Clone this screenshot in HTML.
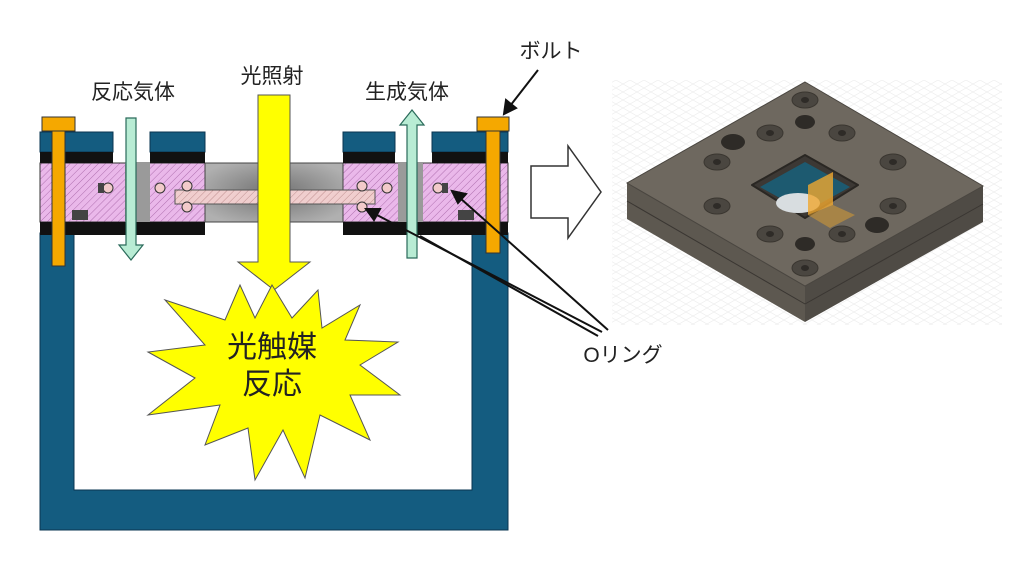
<!DOCTYPE html>
<html><head><meta charset="utf-8"><style>
html,body{margin:0;padding:0;background:#fff;}
svg{display:block;}
text{font-family:"Liberation Sans","Noto Sans CJK JP",sans-serif;}
</style></head><body>
<svg width="1024" height="571" viewBox="0 0 1024 571" xmlns="http://www.w3.org/2000/svg">
<defs>
<pattern id="hatch" width="5" height="5" patternUnits="userSpaceOnUse" patternTransform="rotate(45)">
<rect width="5" height="5" fill="#eab8ea"/><line x1="0" y1="0" x2="0" y2="5" stroke="#b070b0" stroke-width="1"/>
</pattern>
<pattern id="hatch2" width="5" height="5" patternUnits="userSpaceOnUse" patternTransform="rotate(45)">
<rect width="5" height="5" fill="#f0cece"/><line x1="0" y1="0" x2="0" y2="5" stroke="#c09090" stroke-width="1"/>
</pattern>
<radialGradient id="gr" cx="50%" cy="50%" r="60%"><stop offset="0" stop-color="#707070"/><stop offset="1" stop-color="#b0b0b0"/></radialGradient>
<pattern id="grid" width="14" height="8" patternUnits="userSpaceOnUse"><path d="M0 8 L14 0 M0 0 L14 8" stroke="#ececec" stroke-width="0.6"/></pattern>
</defs>

<!-- grid bg for render -->
<rect x="612" y="80" width="390" height="245" fill="url(#grid)"/>

<!-- container U -->
<path d="M40 233 H74 V490 H472 V233 H508 V530 H40 Z" fill="#145c80" stroke="#0a3550" stroke-width="1"/>

<!-- pink layer -->
<rect x="40" y="163" width="468" height="59" fill="url(#hatch)" stroke="#333" stroke-width="1"/>
<!-- gray channels -->
<rect x="125" y="163" width="25" height="59" fill="#9a9a9a"/>
<rect x="398" y="163" width="25" height="59" fill="#9a9a9a"/>
<rect x="205" y="163" width="138" height="59" fill="url(#gr)" stroke="#444"/>
<!-- window bar -->
<rect x="175" y="190" width="200" height="14" fill="url(#hatch2)" stroke="#555"/>
<!-- o-rings -->
<g fill="#f2caca" stroke="#333" stroke-width="1">
<circle cx="187" cy="186" r="5"/><circle cx="187" cy="207" r="5"/>
<circle cx="362" cy="186" r="5"/><circle cx="362" cy="207" r="5"/>
<circle cx="160" cy="188" r="5"/><circle cx="387" cy="188" r="5"/>
<circle cx="108" cy="188" r="5"/><circle cx="438" cy="188" r="5"/>
</g>
<g fill="#444"><rect x="98" y="183" width="6" height="10"/><rect x="442" y="183" width="6" height="10"/>
<rect x="72" y="210" width="16" height="10"/><rect x="458" y="210" width="16" height="10"/></g>

<!-- top plate -->
<g fill="#145c80" stroke="#0a3550">
<rect x="40" y="132" width="73" height="20"/>
<rect x="150" y="132" width="55" height="20"/>
<rect x="343" y="132" width="52" height="20"/>
<rect x="432" y="132" width="76" height="20"/>
</g>
<g fill="#111">
<rect x="40" y="152" width="73" height="11"/>
<rect x="150" y="152" width="55" height="11"/>
<rect x="343" y="152" width="52" height="11"/>
<rect x="432" y="152" width="76" height="11"/>
<rect x="40" y="222" width="165" height="13"/>
<rect x="343" y="222" width="165" height="13"/>
</g>

<!-- bolts -->
<g fill="#f5a800" stroke="#333" stroke-width="1">
<rect x="42" y="117" width="33" height="14"/><rect x="52" y="131" width="13" height="135"/>
<rect x="477" y="117" width="32" height="14"/><rect x="486" y="131" width="14" height="122"/>
</g>

<!-- green arrows -->
<path d="M126 118 H136 V245 H143 L131 260 L119 245 H126 Z" fill="#b8ecd4" stroke="#2a6a5a" stroke-width="1.2"/>
<path d="M407 258 H417 V125 H424 L412 110 L400 125 H407 Z" fill="#b8ecd4" stroke="#2a6a5a" stroke-width="1.2"/>

<!-- yellow arrow -->
<path d="M258 95 H290 V262 H310 L274 290 L238 262 H258 Z" fill="#ffff00" stroke="#555" stroke-width="1"/>

<!-- starburst -->
<polygon points="272,285 292,318 318,290 322,328 360,305 345,340 398,342 360,365 400,395 350,395 370,440 320,415 305,478 283,430 255,480 248,428 205,445 220,405 148,415 195,378 148,352 205,345 165,300 225,320 240,285 255,318" fill="#ffff00" stroke="#555" stroke-width="1"/>
<text x="272" y="357" font-size="30" text-anchor="middle" fill="#222">光触媒</text>
<text x="272" y="394" font-size="30" text-anchor="middle" fill="#222">反応</text>

<!-- labels -->
<text x="133" y="99" font-size="21" text-anchor="middle" fill="#222">反応気体</text>
<text x="272" y="83" font-size="21" text-anchor="middle" fill="#222">光照射</text>
<text x="407" y="99" font-size="21" text-anchor="middle" fill="#222">生成気体</text>
<text x="551" y="58" font-size="21" text-anchor="middle" fill="#222">ボルト</text>
<text x="623" y="362" font-size="21" text-anchor="middle" fill="#222">Oリング</text>

<!-- black pointer lines -->
<g stroke="#111" stroke-width="2" fill="#111">
<line x1="538" y1="70" x2="510" y2="106"/><polygon points="504,114 506,100 516,108"/>
<line x1="608" y1="330" x2="460" y2="198"/><polygon points="452,191 466,194 458,203"/>
<line x1="602" y1="332" x2="375" y2="214"/><polygon points="366,209 380,209 374,220"/>
<line x1="598" y1="336" x2="420" y2="236"/>
</g>

<!-- hollow arrow -->
<path d="M531 166 H568 V146 L601 192 L568 238 V218 H531 Z" fill="#fff" stroke="#333" stroke-width="1.5"/>

<!-- 3D plate -->
<polygon points="627,183 805,286 805,322 627,219" fill="#5d5850"/>
<polygon points="805,286 983,186 983,222 805,322" fill="#4f4b45"/>
<line x1="627" y1="201" x2="805" y2="304" stroke="#3a3632"/>
<line x1="805" y1="304" x2="983" y2="204" stroke="#3a3632"/>
<polygon points="805,82 983,186 805,286 627,183" fill="#6e685f" stroke="#4a4640"/>
<!-- window -->
<polygon points="805,155 858,185 805,218 752,185" fill="#3c3834" stroke="#2a2723" stroke-width="2" stroke-linejoin="round"/>
<polygon points="805,162 850,187 805,212 760,187" fill="#1d5a70"/>
<ellipse cx="798" cy="203" rx="22" ry="10" fill="#d8dde0"/>
<polygon points="808,185 833,172 833,205 808,215" fill="#f0a830" opacity="0.8"/>
<polygon points="808,215 833,205 855,215 830,228" fill="#e0a030" opacity="0.5"/>
<!-- holes -->
<g fill="#4a4640" stroke="#3a3630" stroke-width="1">
<ellipse cx="805" cy="100" rx="13" ry="8"/><ellipse cx="770" cy="133" rx="13" ry="8"/><ellipse cx="842" cy="133" rx="13" ry="8"/>
<ellipse cx="717" cy="162" rx="13" ry="8"/><ellipse cx="893" cy="162" rx="13" ry="8"/>
<ellipse cx="717" cy="206" rx="13" ry="8"/><ellipse cx="893" cy="206" rx="13" ry="8"/>
<ellipse cx="770" cy="234" rx="13" ry="8"/><ellipse cx="842" cy="234" rx="13" ry="8"/><ellipse cx="805" cy="268" rx="13" ry="8"/>
</g>
<g fill="#2e2b27">
<ellipse cx="805" cy="122" rx="10" ry="7"/><ellipse cx="733" cy="142" rx="12" ry="8"/>
<ellipse cx="877" cy="225" rx="12" ry="8"/><ellipse cx="805" cy="244" rx="10" ry="7"/>
<ellipse cx="805" cy="100" rx="4" ry="3"/><ellipse cx="770" cy="133" rx="4" ry="3"/><ellipse cx="842" cy="133" rx="4" ry="3"/>
<ellipse cx="717" cy="162" rx="4" ry="3"/><ellipse cx="893" cy="162" rx="4" ry="3"/><ellipse cx="717" cy="206" rx="4" ry="3"/>
<ellipse cx="893" cy="206" rx="4" ry="3"/><ellipse cx="770" cy="234" rx="4" ry="3"/><ellipse cx="842" cy="234" rx="4" ry="3"/><ellipse cx="805" cy="268" rx="4" ry="3"/>
</g>
</svg>
</body></html>
